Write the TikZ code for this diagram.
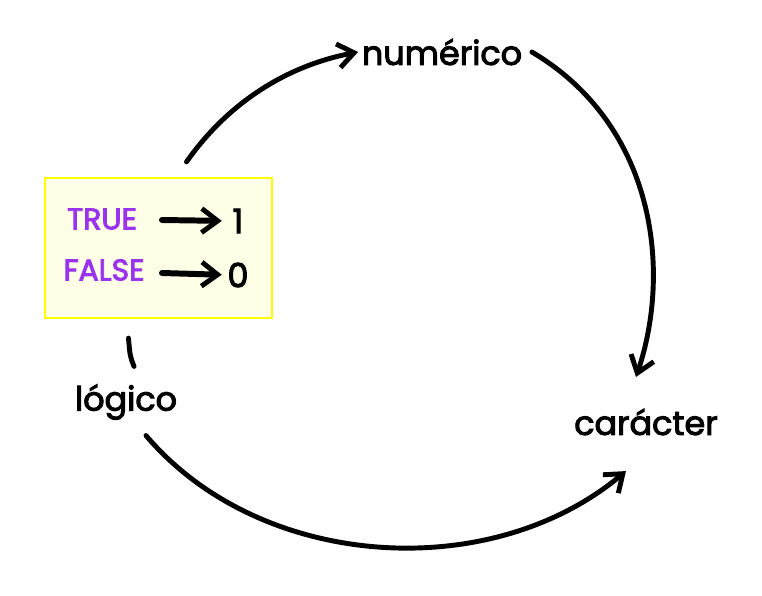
\documentclass[tikz,border=0pt]{standalone}
\usepackage{fontspec}
\setmainfont[FakeBold=3]{Poppins}
\usepackage{tikz}
\usepackage{xcolor}
\usetikzlibrary{positioning, arrows.meta, calc}

\definecolor{morado}{RGB}{153,51,238}
\definecolor{amarillo}{RGB}{255,255,0}
\definecolor{crema}{RGB}{255,255,232}

\begin{document}
\begin{tikzpicture}[x=0.02cm, y=-0.02cm,
    flecha/.style={line width=2.8pt, line cap=round, -{Straight Barb[length=0.32cm, width=0.48cm, line width=2.8pt]}},
    tipo/.style={font=\fontsize{19}{22}\selectfont, inner sep=2pt},
    valor/.style={font=\fontsize{17}{20}\selectfont, text=morado, inner sep=1pt}]

    % fix the canvas to the reference size
    \useasboundingbox (0,0) rectangle (762,596);

    % the three types
    \node[tipo] (numerico) at (442,52) {numérico};
    \node[tipo] (caracter) at (646,422) {carácter};
    \node[tipo] (logico) at (126,402) {lógico};

    % the conversion box
    \node[draw=amarillo, fill=crema, line width=1.3pt, rectangle, minimum width=4.54cm, minimum height=2.8cm] (caja) at (158.5,248) {};
    \node[valor] (verdadero) at (102,219) {TRUE};
    \node[valor] (falso) at (104,270) {FALSE};
    \node[tipo, inner sep=1pt] (uno) at (238,221) {1};
    \node[tipo, inner sep=1pt] (cero) at (238,275) {0};

    % arrows inside the box
    \draw[flecha, line width=3.4pt, shorten >=5pt] (162,220) -- (uno.west);
    \draw[flecha, line width=3.4pt, shorten >=5pt] (162,273) -- (uno.west |- cero.west);

    % arrows round the circle
    \draw[flecha] ([xshift=28*0.02cm, yshift=15*0.02cm]caja.north) .. controls (230,100) and (290,65) .. (numerico.west);
    \draw[flecha] ([xshift=6*0.02cm]numerico.east) .. controls (655,125) and (672,270) .. ([xshift=-10*0.02cm, yshift=28*0.02cm]caracter.north);
    \draw[flecha] ([xshift=20*0.02cm, yshift=-12*0.02cm]logico.south) .. controls (260,570) and (490,585) .. ([xshift=-20*0.02cm, yshift=-32*0.02cm]caracter.south);
    \draw[line width=2.8pt, line cap=round] ([xshift=-30*0.02cm, yshift=-19*0.02cm]caja.south) .. controls (130,356) .. ([xshift=8*0.02cm, yshift=14*0.02cm]logico.north);

\end{tikzpicture}
\end{document}
